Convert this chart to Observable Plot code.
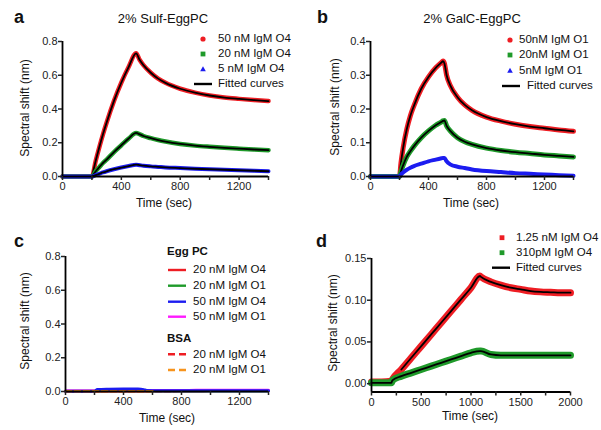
<!DOCTYPE html>
<html><head><meta charset="utf-8">
<script src="https://cdn.jsdelivr.net/npm/d3@7"></script>
<script src="https://cdn.jsdelivr.net/npm/@observablehq/plot@0.6"></script>
<style>
body{margin:0;background:#fff;}
#root{position:relative;width:601px;height:430px;overflow:hidden;background:#fff;font-family:Arial,"Liberation Sans",sans-serif;}
.t{position:absolute;white-space:nowrap;color:#111;}
#root svg.panel{position:absolute;}
</style></head><body><div id="root"></div>
<script>
// ---------- data ----------
// panel a: 2% Sulf-EggPC
const aTime = [0,100,200,225,250,275,300,350,400,450,500,525,550,600,650,700,800,900,1000,1100,1200,1300,1400];
const a50nM = [0,0,0,0.09,0.173,0.25,0.32,0.448,0.557,0.65,0.73,0.69,0.66,0.615,0.58,0.555,0.52,0.497,0.48,0.468,0.46,0.453,0.447];
const a20nM = [0,0,0,0.03,0.055,0.08,0.10,0.145,0.185,0.225,0.258,0.25,0.24,0.227,0.216,0.207,0.193,0.183,0.176,0.17,0.165,0.16,0.156];
const a5nM  = [0,0,0,0.008,0.016,0.024,0.031,0.043,0.053,0.062,0.07,0.067,0.064,0.06,0.057,0.054,0.05,0.046,0.043,0.04,0.037,0.034,0.031];
// panel b: 2% GalC-EggPC
const bTime = [0,100,200,210,225,250,275,300,350,400,450,490,500,510,525,550,600,650,700,800,900,1000,1100,1200,1300,1400];
const b50nM = [0,0,0,0.04,0.085,0.14,0.18,0.21,0.26,0.295,0.322,0.338,0.342,0.335,0.30,0.27,0.235,0.212,0.196,0.176,0.164,0.155,0.148,0.143,0.138,0.134];
const b20nM = [0,0,0,0.015,0.033,0.058,0.075,0.09,0.115,0.135,0.152,0.162,0.165,0.166,0.15,0.135,0.115,0.103,0.095,0.084,0.077,0.072,0.068,0.064,0.061,0.058];
const b5nM  = [0,0,0,0.006,0.012,0.02,0.026,0.031,0.038,0.045,0.05,0.054,0.055,0.055,0.045,0.036,0.029,0.025,0.021,0.016,0.013,0.01,0.008,0.006,0.004,0.002];
// panel c: controls
const cTime = [0,100,200,220,300,400,500,540,560,600,700,800,900,1000,1100,1200,1300,1400];
const cEgg20O4 = [0.003,0.003,0.003,0.003,0.003,0.003,0.003,0.003,0.003,0.003,0.003,0.003,0.003,0.004,0.004,0.004,0.004,0.004];
const cEgg20O1 = [0.002,0.002,0.002,0.002,0.003,0.003,0.003,0.003,0.003,0.003,0.003,0.003,0.003,0.003,0.003,0.003,0.003,0.003];
const cEgg50O4 = [0.001,0.001,0.002,0.012,0.014,0.015,0.015,0.011,0.006,0.005,0.005,0.004,0.004,0.004,0.004,0.004,0.004,0.004];
const cEgg50O1 = [0.003,0.003,0.003,0.004,0.004,0.004,0.005,0.005,0.005,0.006,0.006,0.006,0.007,0.007,0.007,0.008,0.008,0.008];
const cBsa20O4 = [0.002,0.002,0.002,0.002,0.002,0.002,0.002,0.002,0.002,0.003,0.003,0.004,0.004,0.004,0.005,0.005,0.005,0.005];
const cBsa20O1 = [0.002,0.002,0.002,0.002,0.002,0.002,0.002,0.002,0.002,0.002];
// panel d: low concentrations
const dTime = [0,100,200,210,300,400,500,600,700,800,900,1000,1090,1100,1200,1300,1400,1500,1600,1700,1800,1900,2000];
const d125nM = [0.002,0.002,0.003,0.005,0.017,0.031,0.045,0.059,0.073,0.087,0.101,0.115,0.129,0.128,0.122,0.118,0.115,0.113,0.111,0.110,0.1095,0.109,0.109];
const d310pM = [0.001,0.001,0.001,0.004,0.009,0.013,0.017,0.021,0.025,0.029,0.033,0.037,0.039,0.039,0.035,0.034,0.034,0.034,0.034,0.034,0.034,0.034,0.034];
// tick values
const xTicks1400 = [0,200,400,600,800,1000,1200,1400];
const xTicks2000 = [0,250,500,750,1000,1250,1500,1750,2000];
const yTicksA = [0,0.2,0.4,0.6,0.8];
const yTicksB = [0,0.1,0.2,0.3,0.4];
const yTicksD = [0,0.05,0.10,0.15];

// ---------- helpers ----------
const RED="#ee1d23", GREEN="#1f9a2a", BLUE="#1c1cf0", MAG="#ff1aff", ORANGE="#f7941d";
const FONT='Arial, "Liberation Sans", sans-serif';
const root=document.getElementById("root");
const rows=(t,v)=>v.map((y,i)=>({t:t[i],v:y}));
const from=(r,t0)=>r.filter(d=>d.t>=t0);

function panel(o){
  const p=Plot.plot({
    width:o.w,height:o.h,marginLeft:o.ml,marginRight:o.mr,marginTop:o.mt,marginBottom:o.mb,
    style:{fontFamily:FONT,fontSize:"11px",color:"#222",background:"transparent",overflow:"visible"},
    x:{domain:o.xd,label:null},
    y:{domain:o.yd,label:null},
    marks:[
      ...o.marks,
      Plot.ruleX([o.xd[0]],{stroke:"#000",strokeWidth:1.8}),
      Plot.ruleY([o.yd[0]],{stroke:"#000",strokeWidth:1.8}),
      Plot.axisX({ticks:o.xt,tickFormat:o.xf,tickSize:4,tickPadding:2,strokeWidth:1.5,fontSize:11,label:null,anchor:"bottom"}),
      Plot.axisY({ticks:o.yt,tickFormat:o.yf,tickSize:4,tickPadding:1,strokeWidth:1.5,fontSize:11,label:null,anchor:"left"})
    ]
  });
  p.classList.add("panel");
  p.style.left=o.left+"px"; p.style.top=o.top+"px";
  root.appendChild(p);
}
function txt(x,baseline,s,{size=11.5,bold=false,anchor="start"}={}){
  const d=document.createElement("div");
  d.className="t"; d.textContent=s;
  d.style.fontSize=size+"px"; d.style.lineHeight=size+"px";
  d.style.fontWeight=bold?"bold":"normal";
  d.style.top=(baseline-0.846*size)+"px";
  if(anchor==="middle"){d.style.left=x+"px";d.style.transform="translateX(-50%)";}
  else d.style.left=x+"px";
  root.appendChild(d);
}
function vtxt(cx,cy,s,size=12){
  const d=document.createElement("div");
  d.className="t"; d.textContent=s;
  d.style.fontSize=size+"px"; d.style.lineHeight=size+"px";
  d.style.left=cx+"px"; d.style.top=cy+"px";
  d.style.transform="translate(-50%,-50%) rotate(-90deg)";
  root.appendChild(d);
}
const f400=d=>d%400===0?String(d):"";
const f500=d=>d%500===0?String(d):"";
const f1=d3.format(".1f"), f2=d3.format(".2f");
const band=(r,c,w=4.5)=>Plot.line(r,{x:"t",y:"v",stroke:c,strokeWidth:w,curve:"monotone-x",strokeLinejoin:"round"});
const fit=(r)=>Plot.line(r,{x:"t",y:"v",stroke:"#000",strokeWidth:1.8,curve:"monotone-x"});

// ---------- panel a ----------
const A50=rows(aTime,a50nM),A20=rows(aTime,a20nM),A5=rows(aTime,a5nM);
panel({left:0,top:0,w:300,h:215,ml:62,mr:32,mt:41,mb:39,xd:[0,1400],yd:[0,0.8],xt:xTicks1400,xf:f400,yt:yTicksA,yf:f1,
  marks:[band(A50,RED),fit(from(A50,200)),band(A20,GREEN),fit(from(A20,200)),band(A5,BLUE,4),fit(from(A5,200))]});
// ---------- panel b ----------
const B50=rows(bTime,b50nM),B20=rows(bTime,b20nM),B5=rows(bTime,b5nM);
panel({left:300,top:0,w:301,h:215,ml:70,mr:28,mt:41,mb:39,xd:[0,1400],yd:[0,0.4],xt:xTicks1400,xf:f400,yt:yTicksB,yf:f1,
  marks:[band(B50,RED,5),fit(from(B50,200)),band(B20,GREEN,5),fit(from(B20,200)),band(B5,BLUE,4)]});
// ---------- panel c ----------
panel({left:0,top:215,w:300,h:215,ml:65,mr:32,mt:41,mb:39,xd:[0,1400],yd:[0,0.8],xt:xTicks1400,xf:f400,yt:yTicksA,yf:f1,
  marks:[
    band(rows(cTime,cEgg20O4),RED,2.5),band(rows(cTime,cEgg20O1),GREEN,2.5),
    Plot.line(rows(cTime,cBsa20O4),{x:"t",y:"v",stroke:RED,strokeWidth:2.5,strokeDasharray:"6,3"}),
    band(rows(cTime,cEgg50O1),MAG,3),band(rows(cTime,cEgg50O4),BLUE,3),
    Plot.line(rows(cTime,cBsa20O1),{x:"t",y:"v",stroke:ORANGE,strokeWidth:2.5,strokeDasharray:"6,3"})
  ]});
// ---------- panel d ----------
const D125=rows(dTime,d125nM),D310=rows(dTime,d310pM);
panel({left:300,top:215,w:301,h:215,ml:71,mr:31,mt:43,mb:38.5,xd:[0,2000],yd:[-0.01,0.15],xt:xTicks2000,xf:f500,yt:yTicksD,yf:f2,
  marks:[band(D125,RED,7),band(D310,GREEN,7),fit(from(D125,220)),fit(D310)]});

// ---------- text ----------
txt(14,23,"a",{size:18,bold:true}); txt(317,23,"b",{size:18,bold:true});
txt(14,247,"c",{size:18,bold:true}); txt(316,247,"d",{size:18,bold:true});
txt(163,23,"2% Sulf-EggPC",{size:13,anchor:"middle"});
txt(472,23,"2% GalC-EggPC",{size:13,anchor:"middle"});
txt(164,207,"Time (sec)",{size:12,anchor:"middle"});
txt(471,207,"Time (sec)",{size:12,anchor:"middle"});
txt(167,422,"Time (sec)",{size:12,anchor:"middle"});
txt(470,420,"Time (sec)",{size:12,anchor:"middle"});
vtxt(25,108,"Spectral shift (nm)"); vtxt(335,107,"Spectral shift (nm)");
vtxt(25,321,"Spectral shift (nm)"); vtxt(333,323,"Spectral shift (nm)");

// legends
const legA=["50 nM IgM O4","20 nM IgM O4","5 nM IgM O4","Fitted curves"];
const legB=["50nM IgM O1","20nM IgM O1","5nM IgM O1","Fitted curves"];
const legC1=["20 nM IgM O4","20 nM IgM O1","50 nM IgM O4","50 nM IgM O1"];
const legC2=["20 nM IgM O4","20 nM IgM O1"];
const legD=["1.25 nM IgM O4","310pM IgM O4","Fitted curves"];

const ov=d3.select(root).append("svg").attr("width",601).attr("height",430)
  .style("position","absolute").style("left",0).style("top",0).style("pointer-events","none");
function sym(kind,x,y,c){
  if(kind==="circle") ov.append("circle").attr("cx",x).attr("cy",y).attr("r",2.6).attr("fill",c);
  else if(kind==="square") ov.append("rect").attr("x",x-2.4).attr("y",y-2.4).attr("width",4.8).attr("height",4.8).attr("fill",c);
  else if(kind==="tri") ov.append("path").attr("d",`M${x},${y-2.8}L${x+2.8},${y+2.2}L${x-2.8},${y+2.2}Z`).attr("fill",c);
  else if(kind==="line") ov.append("line").attr("x1",x).attr("x2",x+18).attr("y1",y).attr("y2",y).attr("stroke",c).attr("stroke-width",2.4);
  else if(kind==="dash") ov.append("line").attr("x1",x).attr("x2",x+18).attr("y1",y).attr("y2",y).attr("stroke",c).attr("stroke-width",2.4).attr("stroke-dasharray","7,4");
}
// a
[39,54,69,84].forEach((y,i)=>{
  const k=["circle","square","tri","line"][i], c=[RED,GREEN,BLUE,"#000"][i];
  sym(k,i===3?194:203,y,c); txt(218,y+4,legA[i]);
});
// b
[40,55,70.5,86].forEach((y,i)=>{
  const k=["circle","square","tri","line"][i], c=[RED,GREEN,BLUE,"#000"][i];
  sym(k,i===3?502:510,y,c); txt(i===3?527:519,y+4,legB[i]);
});
// c
txt(167,256,"Egg PC",{size:11.5,bold:true});
[270,285.7,301.7,316.7].forEach((y,i)=>{sym("line",168,y,[RED,GREEN,BLUE,MAG][i]); txt(193,y+4,legC1[i]);});
txt(167,342.5,"BSA",{size:11.5,bold:true});
[354.3,370].forEach((y,i)=>{sym("dash",168,y,[RED,ORANGE][i]); txt(193,y+4,legC2[i]);});
// d
[237.7,252.7,267.7].forEach((y,i)=>{
  if(i<2) sym("square",502,y,[RED,GREEN][i]); else sym("line",492,y,"#000");
  txt(516,y+4,legD[i]);
});
</script></body></html>
